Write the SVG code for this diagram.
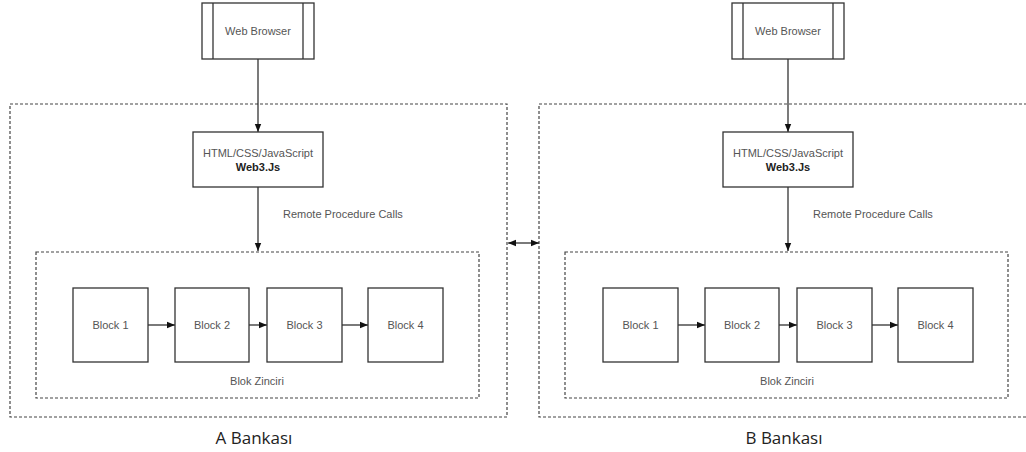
<svg xmlns="http://www.w3.org/2000/svg" width="1026" height="452" viewBox="0 0 1026 452">
<defs>
<style>
.box{fill:#fff;stroke:#333;stroke-width:1.3}
.dash{fill:none;stroke:#444;stroke-width:1.2;stroke-dasharray:3 2}
.ln{fill:none;stroke:#222;stroke-width:1.2}
.t{font-family:"Liberation Sans",Arial,sans-serif;font-size:11px;fill:#555;text-anchor:middle}
.b{font-weight:bold;fill:#222}
.big{font-family:"Open Sans","Noto Sans",sans-serif;font-size:17px;fill:#222;text-anchor:middle}
</style>
<marker id="ar" viewBox="0 0 10 10" refX="10" refY="5" markerWidth="8" markerHeight="8" orient="auto-start-reverse" markerUnits="userSpaceOnUse">
<path d="M0,1 L10,5 L0,9 Z" fill="#111"/>
</marker>
</defs>
<rect width="1026" height="452" fill="#fff"/>

<g id="bankA">
<rect class="dash" x="10" y="104" width="497" height="313"/>
<rect class="dash" x="36" y="252" width="443" height="146"/>
<text class="big" x="254" y="444">A Bankası</text>
<text class="t" x="257" y="385">Blok Zinciri</text>
<text class="t" x="283" y="218" style="text-anchor:start">Remote Procedure Calls</text>
</g>
<g id="bankB">
<rect class="dash" x="539" y="104" width="497" height="313"/>
<rect class="dash" x="565" y="252" width="443" height="146"/>
<text class="big" x="784" y="444">B Bankası</text>
<text class="t" x="787" y="385">Blok Zinciri</text>
<text class="t" x="813" y="218" style="text-anchor:start">Remote Procedure Calls</text>
</g>

<g id="connectors">
<line class="ln" x1="258" y1="59" x2="258" y2="132" marker-end="url(#ar)"/>
<line class="ln" x1="258" y1="187" x2="258" y2="251" marker-end="url(#ar)"/>
<line class="ln" x1="148" y1="325" x2="175" y2="325" marker-end="url(#ar)"/>
<line class="ln" x1="249" y1="325" x2="267" y2="325" marker-end="url(#ar)"/>
<line class="ln" x1="342" y1="325" x2="368" y2="325" marker-end="url(#ar)"/>
<line class="ln" x1="788" y1="59" x2="788" y2="132" marker-end="url(#ar)"/>
<line class="ln" x1="788" y1="187" x2="788" y2="251" marker-end="url(#ar)"/>
<line class="ln" x1="678" y1="325" x2="705" y2="325" marker-end="url(#ar)"/>
<line class="ln" x1="779" y1="325" x2="797" y2="325" marker-end="url(#ar)"/>
<line class="ln" x1="872" y1="325" x2="898" y2="325" marker-end="url(#ar)"/>
<line class="ln" x1="508" y1="243" x2="539" y2="243" marker-start="url(#ar)" marker-end="url(#ar)"/>
</g>

<g id="webA">
<rect class="box" x="202" y="3" width="112" height="56"/>
<line class="box" x1="213" y1="3" x2="213" y2="59"/>
<line class="box" x1="303" y1="3" x2="303" y2="59"/>
<text class="t" x="258" y="35">Web Browser</text>
</g>
<g id="htmlA">
<rect class="box" x="193" y="132" width="130" height="55"/>
<text class="t" x="258" y="157">HTML/CSS/JavaScript</text>
<text class="t b" x="258" y="171">Web3.Js</text>
</g>
<g id="a1"><rect class="box" x="73" y="288" width="75" height="74"/><text class="t" x="110.5" y="329">Block 1</text></g>
<g id="a2"><rect class="box" x="175" y="288" width="74" height="74"/><text class="t" x="212" y="329">Block 2</text></g>
<g id="a3"><rect class="box" x="267" y="288" width="75" height="74"/><text class="t" x="304.5" y="329">Block 3</text></g>
<g id="a4"><rect class="box" x="368" y="288" width="75" height="74"/><text class="t" x="405.5" y="329">Block 4</text></g>

<g id="webB">
<rect class="box" x="732" y="3" width="112" height="56"/>
<line class="box" x1="743" y1="3" x2="743" y2="59"/>
<line class="box" x1="833" y1="3" x2="833" y2="59"/>
<text class="t" x="788" y="35">Web Browser</text>
</g>
<g id="htmlB">
<rect class="box" x="723" y="132" width="130" height="55"/>
<text class="t" x="788" y="157">HTML/CSS/JavaScript</text>
<text class="t b" x="788" y="171">Web3.Js</text>
</g>
<g id="b1"><rect class="box" x="603" y="288" width="75" height="74"/><text class="t" x="640.5" y="329">Block 1</text></g>
<g id="b2"><rect class="box" x="705" y="288" width="74" height="74"/><text class="t" x="742" y="329">Block 2</text></g>
<g id="b3"><rect class="box" x="797" y="288" width="75" height="74"/><text class="t" x="834.5" y="329">Block 3</text></g>
<g id="b4"><rect class="box" x="898" y="288" width="75" height="74"/><text class="t" x="935.5" y="329">Block 4</text></g>
</svg>
